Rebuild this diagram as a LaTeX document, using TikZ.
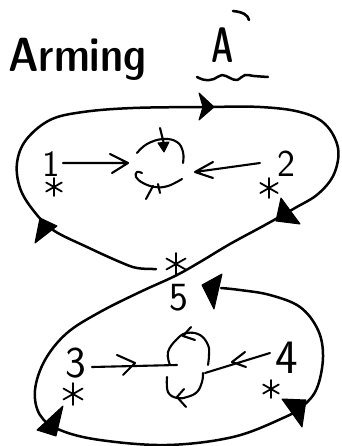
\documentclass[tikz,border=0pt]{standalone}
\usepackage{graphicx}
\tikzset{
  loopline/.style={line width=2.5pt, line cap=round, line join=round},
  thinline/.style={line width=2.1pt, line cap=round, line join=round},
  headfill/.style={fill=black, draw=black, line width=1pt, line join=round},
  handtext/.style={inner sep=0pt, font=\sffamily},
  titletext/.style={inner sep=0pt, font=\sffamily\fontseries{sbc}\selectfont},
  astline/.style={line width=1.8pt, line cap=round},
}
\newcommand\myast[3]{%
  \draw[astline, shift={(#1,#2)}] (0,-#3) -- (0,#3)
    (-0.87*#3,-0.5*#3) -- (0.87*#3,0.5*#3)
    (-0.87*#3,0.5*#3) -- (0.87*#3,-0.5*#3);}
\begin{document}
\begin{tikzpicture}[x=1pt,y=-1pt]
\useasboundingbox (0,0) rectangle (341,446);
% title
\node[titletext, anchor=base west] (title) at (8,72) {\fontsize{48}{50}\selectfont Arming};
\node[titletext, anchor=base] (bigA) at (223,63) {\fontsize{50}{52}\selectfont\scalebox{0.7}[1]{A}};
\draw[loopline, line width=2.6pt] (233,11) .. controls (243,12) and (248,15) .. (249,20);
\draw[loopline] plot[smooth, tension=0.7] coordinates {(197,77) (205,80) (214,79) (222,75) (230,78) (237,80) (245,75) (254,76) (268,77)};
% main figure-eight strand
\draw[loopline] plot[smooth, tension=0.6] coordinates {
 (156,269) (137,268) (120,262) (87,247) (53,230) (33,210) (20,188) (17,163) (26,140) (50,120) (83,112)
 (133,108) (205,107) (260,107) (300,112) (325,124) (338,148) (334,174) (318,194) (295,208)
 (265,225) (230,244) (200,262) (175,276) (140,292) (100,312) (67,333) (45,360) (35,390)
 (40,415) (60,430) (100,440) (167,445) (233,437) (283,418) (303,406) (317,388) (323,357)
 (318,330) (300,307) (270,295) (240,290) (221,288)};
% arrowheads on the strand
\fill[headfill] (199,93) -- (214,107) -- (199,120) -- (203,107) -- cycle;
\fill[headfill] (40,218) -- (57,226) -- (35,243) -- cycle;
\fill[headfill] (281,198) -- (300,224) -- (276,221) -- cycle;
\fill[headfill] (63,406) -- (56,436) -- (37,430) -- cycle;
\fill[headfill] (282,399) -- (306,400) -- (302,427) -- cycle;
\fill[headfill] (202,285) -- (222,274) -- (214,309) -- cycle;
% asterisks
\myast{54}{187}{9}
\myast{269}{188}{10}
\myast{176}{264}{11}
\myast{73}{394}{11}
\myast{271}{389}{9}
% numbers
\node[handtext, anchor=base] (n1) at (51,177) {\fontsize{37}{40}\selectfont 1};
\node[handtext, anchor=base] (n2) at (286,177) {\fontsize{38}{40}\selectfont 2};
\node[handtext, anchor=base] (n3) at (76,377) {\fontsize{44}{46}\selectfont 3};
\node[handtext, anchor=base] (n4) at (287,373) {\fontsize{48}{50}\selectfont 4};
\node[handtext, anchor=base] (n5) at (179,310) {\fontsize{40}{42}\selectfont 5};
% upper centre
\coordinate (u1s) at (63,163);
\coordinate (u1e) at (128,163);
\draw[thinline] (u1s) -- (u1e) (110,154) -- (u1e) -- (112,173);
\coordinate (u2s) at (260,163);
\coordinate (u2e) at (195,172);
\draw[thinline] (u2s) -- (u2e) (213,162) -- (u2e) -- (213,178);
\draw[thinline] plot[smooth, tension=0.7] coordinates {(137,153) (147,144) (163,139) (177,142) (183,152) (183,163)};
\draw[thinline] (160,128) -- (165,148);
\fill[headfill] (158,143) -- (169,142) -- (164,152) -- cycle;
\draw[thinline] plot[smooth, tension=0.7] coordinates {(142,173) (137,172) (136,177) (143,183) (155,187) (168,186) (182,179)};
\draw[thinline] (153,186) -- (146,199);
\draw[thinline] (158,184) -- (160,193);
% lower centre
\coordinate (l3s) at (92,367);
\coordinate (l3e) at (177,365);
\draw[thinline] (l3s) -- (l3e) (117,355) -- (135,363) -- (123,375);
\coordinate (l4s) at (270,353);
\coordinate (l4e) at (205,373);
\draw[thinline] (l4s) -- (l4e) (245,352) -- (232,362) -- (246,367);
\draw[thinline] plot[smooth, tension=0.7] coordinates {(170,365) (168,352) (177,339) (187,333) (200,335) (208,345) (209,355) (208,365)};
\draw[thinline] (191,327) -- (183,336) -- (195,340);
\draw[thinline] plot[smooth, tension=0.7] coordinates {(167,377) (168,392) (177,398) (187,397) (197,392) (202,382) (203,373)};
\draw[thinline] (184,389) -- (177,397) -- (186,407);
\end{tikzpicture}
\end{document}
